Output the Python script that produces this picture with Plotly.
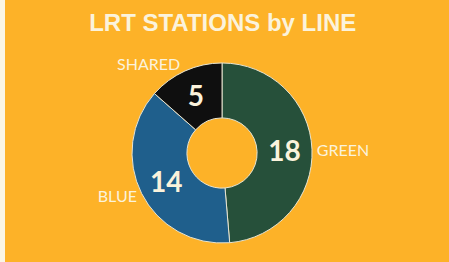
import plotly.graph_objects as go

lines = ["GREEN", "BLUE", "SHARED"]
stations = [18, 14, 5]
slice_colors = ["#26503A", "#1F5F8C", "#0F0F0F"]

bg = "#FDB228"
txt = "#FBF3DC"
dom = dict(x=[0.294, 0.695], y=[0.072, 0.760])

fig = go.Figure()
fig.add_trace(go.Pie(
    labels=lines, values=stations, sort=False, direction="clockwise", rotation=0,
    hole=0.39, domain=dom,
    marker=dict(colors=slice_colors, line=dict(color="#E8E4D0", width=1)),
    textinfo="value", textposition="inside", insidetextorientation="horizontal",
    textfont=dict(family="Lato", size=28, color=txt, weight="bold"),
    showlegend=False, hoverinfo="label+value",
))
fig.add_trace(go.Pie(
    labels=lines, values=stations, sort=False, direction="clockwise", rotation=0,
    hole=0.39, domain=dom,
    marker=dict(colors=["rgba(0,0,0,0)"] * 3, line=dict(width=0)),
    textinfo="label", textposition="outside",
    outsidetextfont=dict(family="Lato", size=16, color=txt),
    showlegend=False, hoverinfo="skip",
))
fig.update_layout(
    width=449, height=262,
    margin=dict(l=0, r=0, t=0, b=0),
    paper_bgcolor=bg, plot_bgcolor=bg,
    title=dict(text="<b>LRT STATIONS by LINE</b>", x=0.496, xanchor="center",
               y=0.915, yanchor="middle",
               font=dict(family="Liberation Sans, Arial", size=24, color=txt)),
    shapes=[dict(type="rect", xref="paper", yref="paper", x0=0, x1=5/449, y0=0, y1=1,
                 fillcolor="#FBF5E4", line=dict(width=0), layer="above")],
)
fig.write_html("out.html", config={"displayModeBar": False},
               post_script="document.body.style.margin='0';document.body.style.overflow='hidden';")
